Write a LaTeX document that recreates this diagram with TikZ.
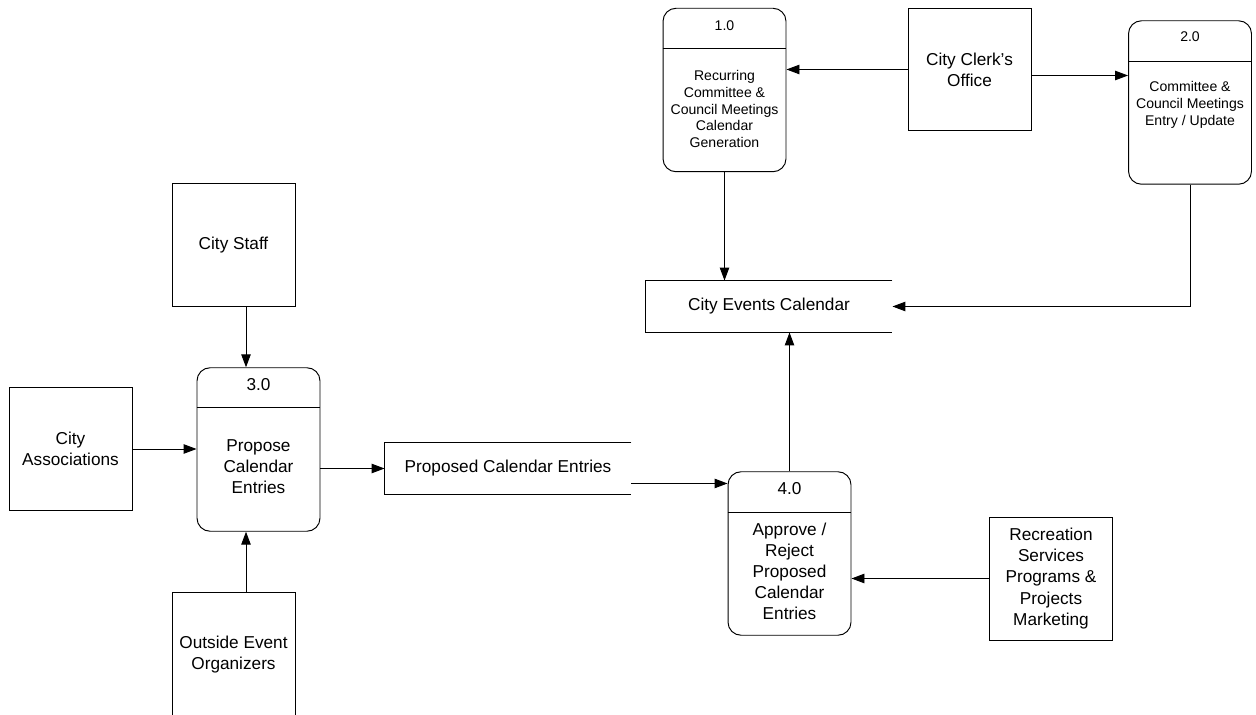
\documentclass[tikz,border=0pt]{standalone}
\usepackage{fontspec}
\setmainfont{Liberation Sans}
\usetikzlibrary{positioning}
\usetikzlibrary{calc}
\usetikzlibrary{arrows.meta}

\begin{document}
\begin{tikzpicture}[x=0.02cm, y=-0.02cm, line width=0.55pt,
        every node/.style={font=\fontsize{9.8}{12}\selectfont, align=center},
        entity/.style={draw, minimum width=2.46cm, minimum height=2.46cm, inner sep=0pt},
        proc/.style={draw, rounded corners=2.6mm, minimum width=2.46cm, minimum height=3.27cm, inner sep=0pt},
        store/.style={minimum width=4.92cm, minimum height=1.02cm, inner sep=0pt},
        smalltext/.style={font=\fontsize{8}{9.6}\selectfont},
        flow/.style={-{Triangle[length=2.6mm, width=1.9mm]}}]
    \useasboundingbox (0,0) rectangle (1256,715);

    % processes
    \node [proc] (p1) at (724.5,90) {};
    \node [smalltext] (p1num) at ($(p1.north)+(0,18)$) {1.0};
    \node [smalltext] (p1txt) at ($(p1)+(0,19)$) {Recurring\\Committee \&\\Council Meetings\\Calendar\\Generation};
    \draw ($(p1.north west)+(0,41)$) -- ($(p1.north east)+(0,41)$);

    \node [proc] (p2) at (1190,102.5) {};
    \node [smalltext] (p2num) at ($(p2.north)+(0,16)$) {2.0};
    \node [smalltext] (p2txt) at ($(p2)+(0,2.5)$) {Committee \&\\Council Meetings\\Entry / Update};
    \draw ($(p2.north west)+(0,41)$) -- ($(p2.north east)+(0,41)$);

    \node [proc] (p3) at (258.5,449.5) {};
    \node (p3num) at ($(p3.north)+(0,17)$) {3.0};
    \node (p3txt) at ($(p3)+(0,17.5)$) {Propose\\Calendar\\Entries};
    \draw ($(p3.north west)+(0,40)$) -- ($(p3.north east)+(0,40)$);

    \node [proc] (p4) at (789.5,553.5) {};
    \node (p4num) at ($(p4.north)+(0,17)$) {4.0};
    \node (p4txt) at ($(p4)+(0,18)$) {Approve /\\Reject\\Proposed\\Calendar\\Entries};
    \draw ($(p4.north west)+(0,41)$) -- ($(p4.north east)+(0,41)$);

    % external entities
    \node [entity] (clerk) at (969.5,69.5) {City Clerk’s\\Office};
    \node [entity] (staff) at (233.5,245) {City Staff};
    \node [entity] (assoc) at (70.5,449) {City\\Associations};
    \node [entity] (rec) at (1051,578.5) {Recreation\\Services\\Programs \&\\Projects\\Marketing};
    \node [entity, minimum height=2.52cm] (outside) at (233.5,655) {Outside Event\\Organizers};

    % data stores
    \node [store] (cal) at (769,306.5) {City Events Calendar};
    \draw (cal.north east) -- (cal.north west) -- (cal.south west) -- (cal.south east);
    \node [store] (prop) at (508,468.5) {Proposed Calendar Entries};
    \draw (prop.north east) -- (prop.north west) -- (prop.south west) -- (prop.south east);

    % flows
    \draw [flow] (clerk.west) -- (clerk.west -| p1.east);
    \coordinate (clerkout) at ($(clerk.east)+(0,6)$);
    \draw [flow] (clerkout) -- (clerkout -| p2.west);
    \draw [flow] (p1.south) -- (p1.south |- cal.north);
    \draw [flow] (p2.south) |- (cal.east);
    \draw [flow] (p4.north) -- (p4.north |- cal.south);
    \coordinate (p3in) at ($(p3.north)+(-12.5,0)$);
    \draw [flow] (p3in |- staff.south) -- (p3in);
    \coordinate (p3up) at ($(p3.south)+(-12.5,0)$);
    \draw [flow] (p3up |- outside.north) -- (p3up);
    \draw [flow] (assoc.east) -- (assoc.east -| p3.west);
    \draw [flow] (p3.east |- prop.west) -- (prop.west);
    \coordinate (propout) at ($(prop.south east)+(0,-11)$);
    \draw [flow] (propout) -- (propout -| p4.west);
    \draw [flow] (rec.west) -- (rec.west -| p4.east);
\end{tikzpicture}
\end{document}
